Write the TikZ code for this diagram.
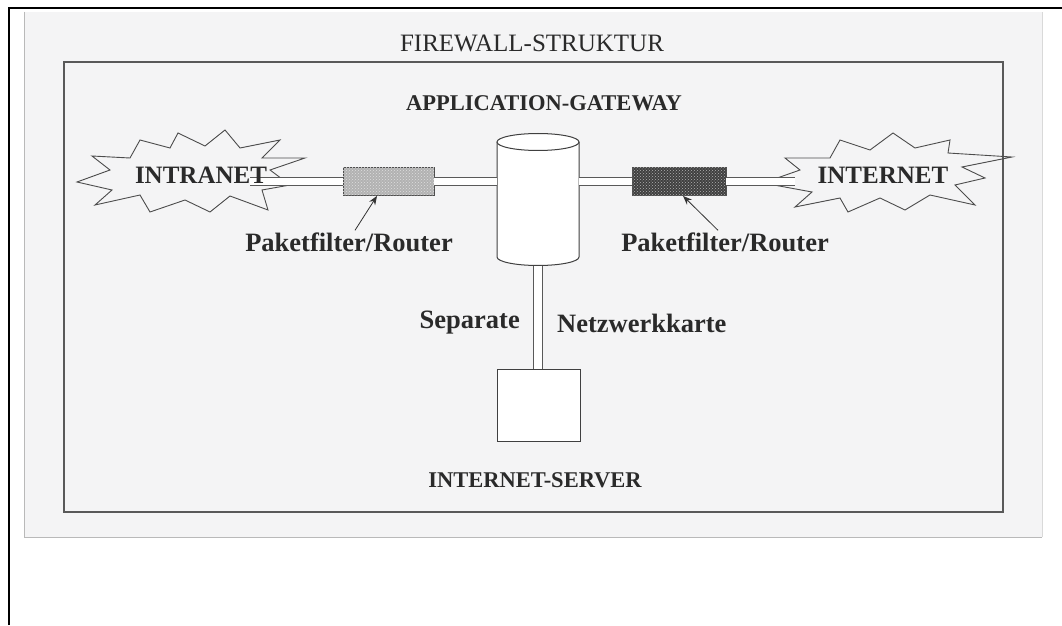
\documentclass[tikz,border=0pt]{standalone}
\usepackage{fontspec}
\setmainfont{Liberation Serif}
\usetikzlibrary{arrows.meta,patterns}
\definecolor{ink}{HTML}{2A2A2A}
\definecolor{scan}{HTML}{F4F4F5}
\tikzset{
  lbl/.style={font=\bfseries\fontsize{26.5}{28}\selectfont, text=ink, inner sep=0pt},
  caps/.style={font=\bfseries\fontsize{22.5}{24}\selectfont, text=ink, inner sep=0pt},
  startxt/.style={font=\bfseries\fontsize{25}{27}\selectfont, text=ink, inner sep=0pt},
  star/.style={draw=gray!60!black, line width=0.9pt, line join=miter},
  pipe/.style={draw=gray!70!black, line width=1.1pt, double=white, double distance=7.5pt},
  vpipe/.style={draw=gray!70!black, line width=1.1pt, double=white, double distance=8pt},
  routerbox/.style={draw=gray!60!black, line width=0.8pt, minimum width=#1, minimum height=28pt, inner sep=0pt},
  arr/.style={draw=gray!40!black, line width=0.8pt, -{Stealth[length=9pt,width=7pt]}},
  boxline/.style={draw=gray!50!black, line width=1pt},
}
\begin{document}
\begin{tikzpicture}[x=1pt,y=1pt]
\useasboundingbox (0,0) rectangle (1062,625);
\fill[white] (0,0) rectangle (1062,625);
% scanned page area
\fill[scan] (24,88) rectangle (1042,613);
\draw[gray!55, line width=1pt] (24,613) -- (24,88) -- (1042,88);
\draw[gray!30, line width=1pt] (1042,88) -- (1042,613);
% black outer frame
\draw[black, line width=2pt] (9,0) -- (9,617) -- (1062,617);
% inner frame
\draw[gray!70!black, line width=1.5pt] (64,113) rectangle (1003,563);

\node[font=\fontsize{25}{27}\selectfont, text=ink, inner sep=0pt] (title) at (532,582) {FIREWALL-STRUKTUR};
\node[caps] (gwlabel) at (544,522) {APPLICATION-GATEWAY};

% starbursts
\draw[star] (77,443) -- (110,455) -- (92,469) -- (130,467) -- (140,485) -- (170,477) -- (178,492) -- (205,479) -- (225,495) -- (240,477) -- (280,485) -- (262,467) -- (305,467) -- (270,455) -- (290,440) -- (262,435) -- (268,415) -- (230,429) -- (210,413) -- (185,425) -- (150,413) -- (140,430) -- (95,420) -- (112,435) -- cycle;
\draw[star] (763,442) -- (800,455) -- (785,467) -- (830,467) -- (840,485) -- (870,475) -- (893,492) -- (915,477) -- (950,485) -- (948,472) -- (1012,468) -- (962,458) -- (985,447) -- (955,440) -- (975,420) -- (930,430) -- (905,415) -- (880,427) -- (848,413) -- (840,427) -- (795,418) -- (812,433) -- cycle;

% gateway cylinder
\node[minimum width=82pt, minimum height=133pt, inner sep=0pt] (gw) at (538,425.5) {};
\fill[white] (497,483) -- (497,368) arc (180:360:41 and 8.5) -- (579,483) -- cycle;
\draw[boxline] (497,483) -- (497,368) arc (180:360:41 and 8.5) -- (579,483);
\draw[boxline, fill=white] (538,483) ellipse (41 and 8.5);

% pipe end points
\coordinate (pinL) at (250,443.5);
\coordinate (pinR) at (795,443.5);

% routers
\node[routerbox=91pt, fill=gray!60, postaction={pattern=crosshatch dots, pattern color=gray!25}] (r1) at (388.5,443.5) {};
\node[routerbox=94pt, fill=gray!50!black, postaction={pattern=crosshatch dots, pattern color=gray!60}] (r2) at (679,443.5) {};

% pipes
\draw[pipe] (pinL) -- (r1.west);
\draw[pipe] (r1.east) -- (gw.west |- r1.east);
\draw[pipe] (gw.east |- r2.west) -- (r2.west);
\draw[pipe] (r2.east) -- (pinR);

% star texts
\node[startxt] (intranet) at (201,450) {INTRANET};
\node[startxt] (internet) at (883,450) {INTERNET};

% server
\node[draw=gray!50!black, line width=1pt, fill=white, minimum width=83pt, minimum height=72pt, inner sep=0pt] (srv) at (538.5,220) {};
\draw[vpipe] (538,359.5) -- (srv.north -| 538,0);

% labels
\node[lbl] (pf1) at (349,383) {Paketfilter/Router};
\node[lbl] (pf2) at (725,383) {Paketfilter/Router};
\draw[arr] ([xshift=6pt,yshift=2pt]pf1.north) -- ([xshift=-11.5pt]r1.south);
\draw[arr] ([xshift=-7pt,yshift=2pt]pf2.north) -- ([xshift=4pt]r2.south);

\node[lbl, anchor=east] (sep) at (520,302) {Separate};
\node[lbl, anchor=west] (nic) at (557,302) {Netzwerkkarte};
\node[caps] (srvlabel) at (535,145) {INTERNET-SERVER};
\end{tikzpicture}
\end{document}
